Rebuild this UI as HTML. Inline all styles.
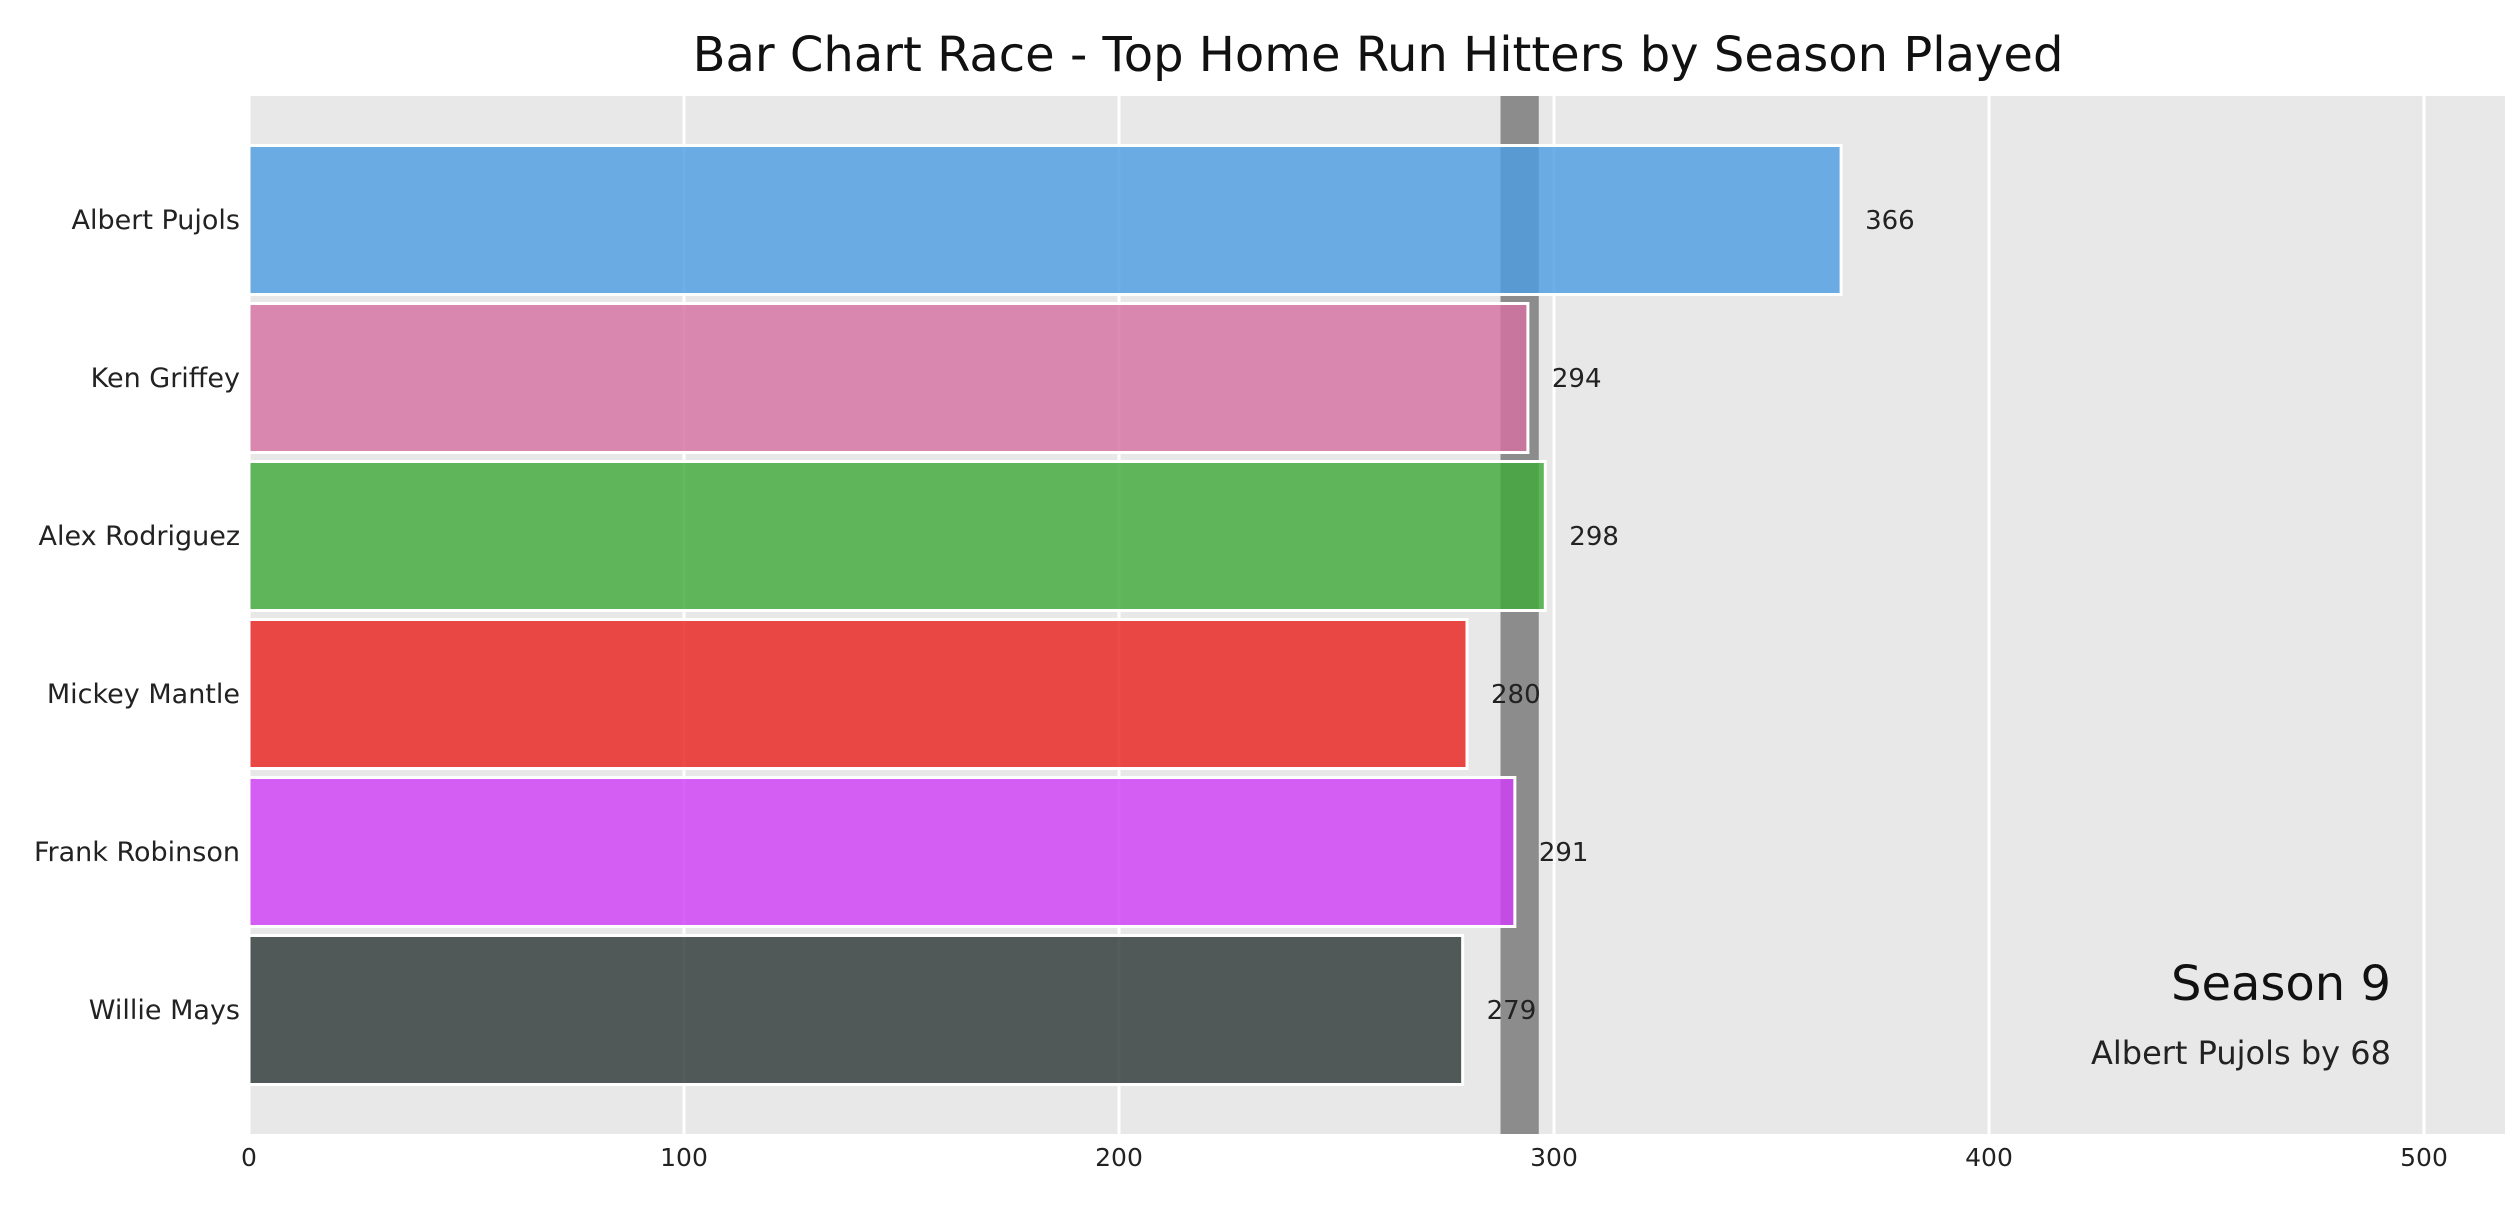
<!DOCTYPE html>
<html><head><meta charset="utf-8"><style>
html,body{margin:0;padding:0;background:#fff;}
svg{display:block;font-family:"DejaVu Sans","Liberation Sans",sans-serif;}
</style></head><body>
<svg id="chart" width="2518" height="1210" viewBox="0 0 2518 1210">
<rect x="0" y="0" width="2518" height="1210" fill="#fff"/>
<text x="1378" y="71" font-size="48" text-anchor="middle" fill="#111">Bar Chart Race - Top Home Run Hitters by Season Played</text>
<rect x="249" y="96" width="2256" height="1038" fill="#e8e8e8"/>
<g id="grid"></g>
<g id="band"></g>
<g id="bars"></g>
<g id="labels"></g>
<g id="ticks"></g>
<text x="2391" y="1000" font-size="48" text-anchor="end" fill="#111">Season 9</text>
<text x="2391" y="1064" font-size="32" text-anchor="end" fill="#222">Albert Pujols by 68</text>
</svg>
<script>
const names = ["Albert Pujols","Ken Griffey","Alex Rodriguez","Mickey Mantle","Frank Robinson","Willie Mays"];
const values = [366,294,298,280,291,279];
const colors = ["#4d9de0","#d671a2","#3faa3a","#e8231e","#cf3ff5","#2f3838"];
const ticks = [0,100,200,300,400,500];
const bandRange = [287.7,296.5];
const NS="http://www.w3.org/2000/svg";
const X0=249, PX=4.35, TOP=96, BOT=1134, RIGHT=2505;
const x = v => X0 + v*PX;
const rowCenter = i => 220 + i*158;
function mk(tag, attrs, parent, text){const e=document.createElementNS(NS,tag);for(const k in attrs)e.setAttribute(k,attrs[k]);if(text!==undefined)e.textContent=text;document.getElementById(parent).appendChild(e);return e;}
ticks.forEach(t=>{
  const l=mk('line',{x1:x(t),x2:x(t),y1:TOP,y2:BOT,stroke:'#fff','stroke-width':3},'grid');
  
  
  const tx=mk('text',{x:x(t),y:1166,'font-size':25,'text-anchor':'middle',fill:'#222'},'ticks',String(t));
  
  
});
const b=mk('rect',{x:x(bandRange[0]),y:TOP,width:x(bandRange[1])-x(bandRange[0]),height:BOT-TOP,fill:'#8c8c8c'},'band');


names.forEach((n,i)=>{
  const c=rowCenter(i), h=149;
  const r=mk('rect',{x:X0,y:c-h/2,width:x(values[i])-X0,height:h,fill:colors[i],'fill-opacity':0.82,stroke:'#fff','stroke-width':3},'bars');
  
  
  const yl=mk('text',{x:240,y:c+9,'font-size':27,'text-anchor':'end',fill:'#222'},'labels',n);
  
  
  const vl=mk('text',{x:x(values[i])+24,y:c+9,'font-size':26,fill:'#222'},'labels',String(values[i]));
  
  
});
</script>
</body></html>
